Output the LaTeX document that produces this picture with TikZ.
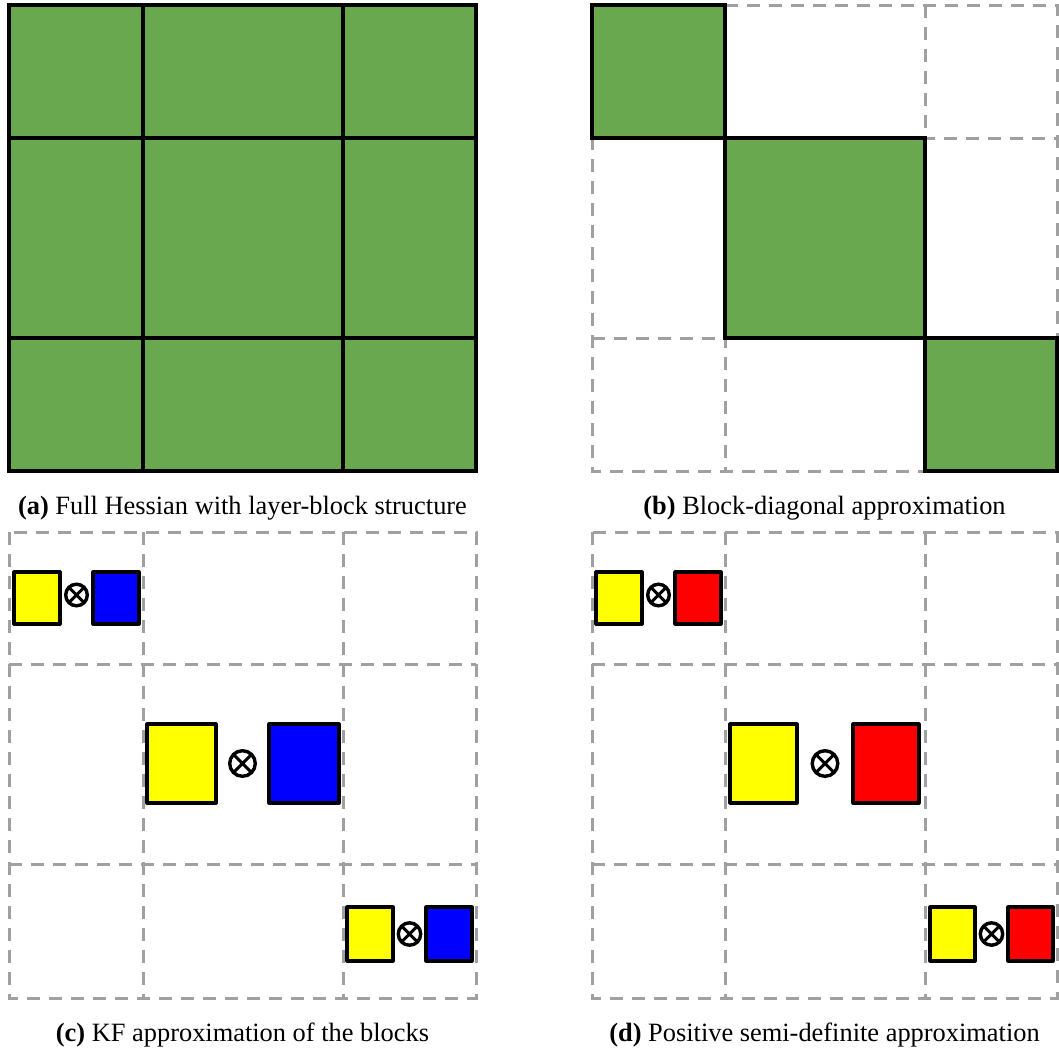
\documentclass[tikz,border=0pt]{standalone}
\usepackage{fontspec}
\setmainfont{Liberation Serif}
\definecolor{hgreen}{HTML}{6AA84F}
\definecolor{dgray}{HTML}{A0A0A0}
\definecolor{fyellow}{HTML}{FFFF00}
\definecolor{fblue}{HTML}{0000FF}
\definecolor{fred}{HTML}{FF0000}
\tikzset{
  blk/.style={draw=black,line width=1.9pt,fill=hgreen,line join=miter},
  blkline/.style={draw=black,line width=1.9pt},
  dgrid/.style={draw=dgray,line width=1.5pt,dash pattern=on 6.5pt off 4.5pt},
  fac/.style={draw=black,line width=1.6pt,line join=round},
  otimes/.style={circle,draw=black,line width=1.7pt,inner sep=0,minimum size=#1,
    path picture={\draw[line width=1.5pt]
      (path picture bounding box.north west) -- (path picture bounding box.south east)
      (path picture bounding box.north east) -- (path picture bounding box.south west);}},
  captext/.style={font=\fontsize{13.2}{15}\selectfont,anchor=base,inner sep=0},
}
\begin{document}
\begin{tikzpicture}[x=0.5pt,y=-0.5pt]
\useasboundingbox (0,0) rectangle (1059,1050);

% ---------- (a) ----------
\fill[hgreen] (9,5) rectangle (476,471);
\draw[blkline] (9,5) rectangle (476,471);
\draw[blkline] (143,5) -- (143,471) (343,5) -- (343,471)
               (9,138) -- (476,138) (9,338) -- (476,338);
\node[captext] (capa) at (242.5,514) {\textbf{(a)} Full Hessian with layer-block structure};

% ---------- (b) ----------
\draw[dgrid] (592,5) rectangle (1057,471);
\draw[dgrid] (725,5) -- (725,471) (925,5) -- (925,471)
             (592,138) -- (1057,138) (592,338) -- (1057,338);
\draw[blk] (592,5) rectangle (725,138);
\draw[blk] (725,138) rectangle (925,338);
\draw[blk] (925,338) rectangle (1057,471);
\node[captext] (capb) at (824.5,514) {\textbf{(b)} Block-diagonal approximation};

% ---------- (c) ----------
\draw[dgrid] (9,532) rectangle (476,998);
\draw[dgrid] (143,532) -- (143,998) (343,532) -- (343,998)
             (9,664) -- (476,664) (9,864) -- (476,864);
\draw[fac,fill=fyellow] (14,572) rectangle (60,624);
\node[otimes=10.8pt] (c1) at (76.5,595) {};
\draw[fac,fill=fblue] (93,572) rectangle (139,624);
\draw[fac,fill=fyellow] (147,724) rectangle (216,803);
\node[otimes=12.8pt] (c2) at (242.5,763.5) {};
\draw[fac,fill=fblue] (269,724) rectangle (339,803);
\draw[fac,fill=fyellow] (347,907) rectangle (393,961);
\node[otimes=11.2pt] (c3) at (409.5,934) {};
\draw[fac,fill=fblue] (426,907) rectangle (472,961);
\node[captext] (capc) at (242.5,1041) {\textbf{(c)} KF approximation of the blocks};

% ---------- (d) ----------
\draw[dgrid] (592,532) rectangle (1057,998);
\draw[dgrid] (725,532) -- (725,998) (925,532) -- (925,998)
             (592,664) -- (1057,664) (592,864) -- (1057,864);
\draw[fac,fill=fyellow] (596,572) rectangle (642,624);
\node[otimes=10.8pt] (d1) at (658.5,595) {};
\draw[fac,fill=fred] (675,572) rectangle (721,624);
\draw[fac,fill=fyellow] (730,724) rectangle (797,803);
\node[otimes=12.8pt] (d2) at (825,763.5) {};
\draw[fac,fill=fred] (853,724) rectangle (919,803);
\draw[fac,fill=fyellow] (930,907) rectangle (975,961);
\node[otimes=11.2pt] (d3) at (991.5,934) {};
\draw[fac,fill=fred] (1008,907) rectangle (1053,961);
\node[captext] (capd) at (824.5,1041) {\textbf{(d)} Positive semi-definite approximation};
\end{tikzpicture}
\end{document}
